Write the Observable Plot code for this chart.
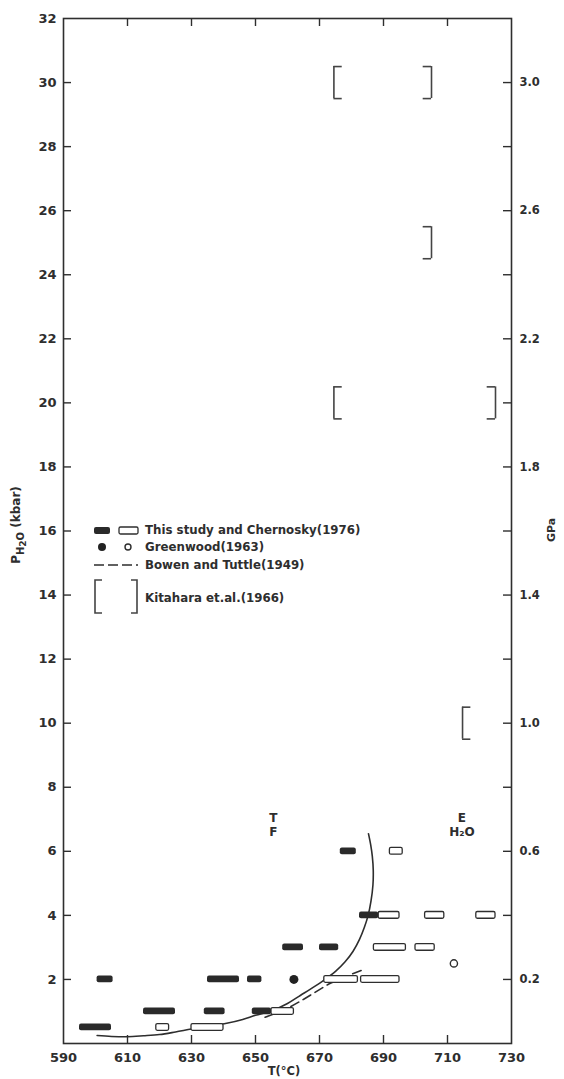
<!DOCTYPE html>
<html>
<head>
<meta charset="utf-8">
<script src="https://cdn.jsdelivr.net/npm/d3@7"></script>
<script src="https://cdn.jsdelivr.net/npm/@observablehq/plot@0.6"></script>
<style>
  html, body { margin: 0; padding: 0; background: #fff; }
  #chart svg { display: block; }
</style>
</head>
<body>
<div id="chart"></div>
<script>
// ---------- data ----------
const xTickLabels = [590, 610, 630, 650, 670, 690, 710, 730];
const xInnerTicks = [610, 630, 650, 670, 690, 710];
const yTickLabels = [2, 4, 6, 8, 10, 12, 14, 16, 18, 20, 22, 24, 26, 28, 30, 32];
const yInnerTicks = [2, 4, 6, 8, 10, 12, 14, 16, 18, 20, 22, 24, 26, 28, 30];
const gpaTicks = [0.2, 0.4, 0.6, 0.8, 1.0, 1.2, 1.4, 1.6, 1.8, 2.0, 2.2, 2.4, 2.6, 2.8, 3.0];
const gpaLabels = [0.2, 0.6, 1.0, 1.4, 1.8, 2.2, 2.6, 3.0];

// This study and Chernosky (1976): temperature brackets [T1, T2, P kbar]
const filledRuns = [
  [595, 605, 0.5], [600.5, 605.5, 2], [615, 625, 1], [634, 640.5, 1],
  [635, 645, 2], [647.5, 652, 2], [649, 655, 1], [658.5, 665, 3],
  [670, 676, 3], [676.5, 681.5, 6], [682.5, 688.5, 4]
];
const openRuns = [
  [619, 623, 0.5], [630, 640, 0.5], [655, 662, 1], [671.5, 682, 2],
  [683, 695, 2], [687, 697, 3], [700, 706, 3], [688.5, 695, 4],
  [703, 709, 4], [719, 725, 4], [692, 696, 6]
];

// Greenwood (1963)
const greenwoodFilled = [[662, 2]];
const greenwoodOpen = [[712, 2.5]];

// Kitahara et al. (1966) brackets: [T, P, side]
const kitahara = [
  [674.5, 30, "left"], [705, 30, "right"], [705, 25, "right"],
  [674.5, 20, "left"], [725, 20, "right"], [714.7, 10, "left"]
];

// equilibrium curve (this study)
const solidCurve = [
  [600.5, 0.25], [605, 0.22], [610, 0.21], [615, 0.24], [620, 0.28], [625, 0.36],
  [630, 0.45], [635, 0.53], [641, 0.63], [646, 0.75], [650, 0.88], [655, 1.02],
  [660, 1.25], [664, 1.5], [668, 1.75], [671, 1.95], [675, 2.25], [678, 2.55],
  [680.5, 2.88], [682.5, 3.25], [684, 3.62], [685.2, 4.0], [686.1, 4.45],
  [686.7, 4.95], [686.8, 5.4], [686.5, 5.85], [686, 6.2], [685.3, 6.55]
];
// Bowen and Tuttle (1949)
const dashedCurve = [
  [653, 0.82], [656, 0.93], [660, 1.1], [664, 1.32], [668, 1.56],
  [673.4, 1.88], [678, 2.08], [683.5, 2.3]
];

// field labels
const fieldLabels = [
  [655.6, 7.05, "T", "middle"], [655.6, 6.6, "F", "middle"],
  [714.5, 7.05, "E", "start"], [714.5, 6.6, "H₂O", "start"]
];

// ---------- chart ----------
const ink = "#2e2e2e";
const font = "'DejaVu Sans', sans-serif";
const halfH = 0.105;        // half height of run bars (kbar)
const tickX = 2.5;          // tick length in °C units (~8px)
const tickY = 0.25;         // tick length in kbar units (~8px)
const serif = 2.6;          // bracket serif length (°C)

const rows = a => a.map(([t1, t2, p]) => ({t1, t2, p}));

const serifs = kitahara.flatMap(([t, p, side]) => {
  const x2 = side === "left" ? t + serif : t - serif;
  return [{x1: t, x2, y: p - 0.5}, {x1: t, x2, y: p + 0.5}];
});

const svg = Plot.plot({
  width: 564,
  height: 1079,
  marginLeft: 63,
  marginRight: 53,
  marginTop: 18,
  marginBottom: 36,
  style: {fontFamily: font, fontWeight: "bold", color: ink, background: "white"},
  x: {domain: [590, 730]},
  y: {domain: [0, 32]},
  marks: [
    Plot.frame({stroke: ink, strokeWidth: 1.6}),
    // axes labels
    Plot.axisX({ticks: xTickLabels, tickSize: 0, tickPadding: 9, label: null, fontSize: 13, fill: ink}),
    Plot.axisY({anchor: "left", ticks: yTickLabels, tickSize: 0, tickPadding: 7, label: null, fontSize: 13, fill: ink}),
    Plot.axisY({anchor: "right", ticks: gpaLabels.map(g => g * 10), tickFormat: d => (d / 10).toFixed(1),
      tickSize: 0, tickPadding: 8, label: null, fontSize: 11.5, fill: ink}),
    // inward ticks
    Plot.ruleY(yInnerTicks, {y: d => d, x1: 590, x2: 590 + tickX, stroke: ink, strokeWidth: 1.4}),
    Plot.ruleY(gpaTicks, {y: d => d * 10, x1: 730 - tickX, x2: 730, stroke: ink, strokeWidth: 1.4}),
    Plot.ruleX(xInnerTicks, {x: d => d, y1: 0, y2: tickY, stroke: ink, strokeWidth: 1.4}),
    Plot.ruleX(xInnerTicks, {x: d => d, y1: 32 - tickY, y2: 32, stroke: ink, strokeWidth: 1.4}),
    // Kitahara brackets
    Plot.ruleX(kitahara, {x: d => d[0], y1: d => d[1] - 0.5, y2: d => d[1] + 0.5, stroke: "#444", strokeWidth: 1.6}),
    Plot.ruleY(serifs, {y: "y", x1: "x1", x2: "x2", stroke: "#444", strokeWidth: 1.6}),
    // curves
    Plot.line(solidCurve, {x: d => d[0], y: d => d[1], curve: "catmull-rom", stroke: ink, strokeWidth: 1.6}),
    Plot.line(dashedCurve, {x: d => d[0], y: d => d[1], curve: "catmull-rom", stroke: ink, strokeWidth: 1.6, strokeDasharray: "9,5"}),
    // runs
    Plot.rect(rows(openRuns), {x1: "t1", x2: "t2", y1: d => d.p - halfH, y2: d => d.p + halfH,
      fill: "white", stroke: ink, strokeWidth: 1.3, rx: 1.5}),
    Plot.rect(rows(filledRuns), {x1: "t1", x2: "t2", y1: d => d.p - halfH, y2: d => d.p + halfH,
      fill: "#2a2a2a", rx: 2}),
    // Greenwood
    Plot.dot(greenwoodFilled, {x: d => d[0], y: d => d[1], r: 4.5, fill: "#222"}),
    Plot.dot(greenwoodOpen, {x: d => d[0], y: d => d[1], r: 3.6, fill: "white", stroke: ink, strokeWidth: 1.4}),
    // field labels
    Plot.text(fieldLabels, {x: d => d[0], y: d => d[1], text: d => d[2], textAnchor: d => d[3],
      fontSize: 12, fontWeight: "bold", fill: ink})
  ]
});

// ---------- legend and axis titles ----------
const s = d3.select(svg);
const lg = s.append("g").attr("fill", ink).attr("text-anchor", "start")
  .style("font-family", font).style("font-weight", "bold").style("font-size", "11.8px");
const legendRows = [
  {y: 530, text: "This study and Chernosky(1976)"},
  {y: 547, text: "Greenwood(1963)"},
  {y: 564.5, text: "Bowen and Tuttle(1949)"},
  {y: 598, text: "Kitahara et.al.(1966)"}
];
lg.append("rect").attr("x", 94).attr("y", 527).attr("width", 16).attr("height", 7).attr("rx", 2).attr("fill", "#2a2a2a");
lg.append("rect").attr("x", 119).attr("y", 527).attr("width", 19).attr("height", 7).attr("rx", 1.5)
  .attr("fill", "white").attr("stroke", ink).attr("stroke-width", 1.3);
lg.append("circle").attr("cx", 102).attr("cy", 547).attr("r", 4).attr("fill", "#222");
lg.append("circle").attr("cx", 128).attr("cy", 547).attr("r", 3).attr("fill", "white").attr("stroke", ink).attr("stroke-width", 1.4);
lg.append("line").attr("x1", 94).attr("x2", 138).attr("y1", 565).attr("y2", 565)
  .attr("stroke", ink).attr("stroke-width", 1.6).attr("stroke-dasharray", "10,4");
lg.append("path").attr("d", "M102,580H95V613H102").attr("fill", "none").attr("stroke", "#444").attr("stroke-width", 1.6);
lg.append("path").attr("d", "M131,580H137V613H131").attr("fill", "none").attr("stroke", "#444").attr("stroke-width", 1.6);
legendRows.forEach(r => {
  lg.append("text").attr("x", 145).attr("y", r.y).attr("dy", "0.36em").text(r.text);
});

// y title with subscripts
const yt = s.append("text").attr("transform", "translate(20,525) rotate(-90)")
  .attr("text-anchor", "middle").attr("fill", ink)
  .style("font-family", font).style("font-weight", "bold").style("font-size", "12px");
yt.append("tspan").text("P");
yt.append("tspan").attr("dy", 4).style("font-size", "10px").text("H");
yt.append("tspan").attr("dy", 2).style("font-size", "9px").text("2");
yt.append("tspan").attr("dy", -2).style("font-size", "10px").text("O");
yt.append("tspan").attr("dy", -4).text(" (kbar)");

s.append("text").attr("transform", "translate(555,530) rotate(-90)")
  .attr("text-anchor", "middle").attr("fill", ink)
  .style("font-family", font).style("font-weight", "bold").style("font-size", "11px").text("GPa");

s.append("text").attr("x", 284).attr("y", 1075).attr("text-anchor", "middle").attr("fill", ink)
  .style("font-family", font).style("font-weight", "bold").style("font-size", "11.5px").text("T(°C)");

document.getElementById("chart").appendChild(svg);
</script>
</body>
</html>
